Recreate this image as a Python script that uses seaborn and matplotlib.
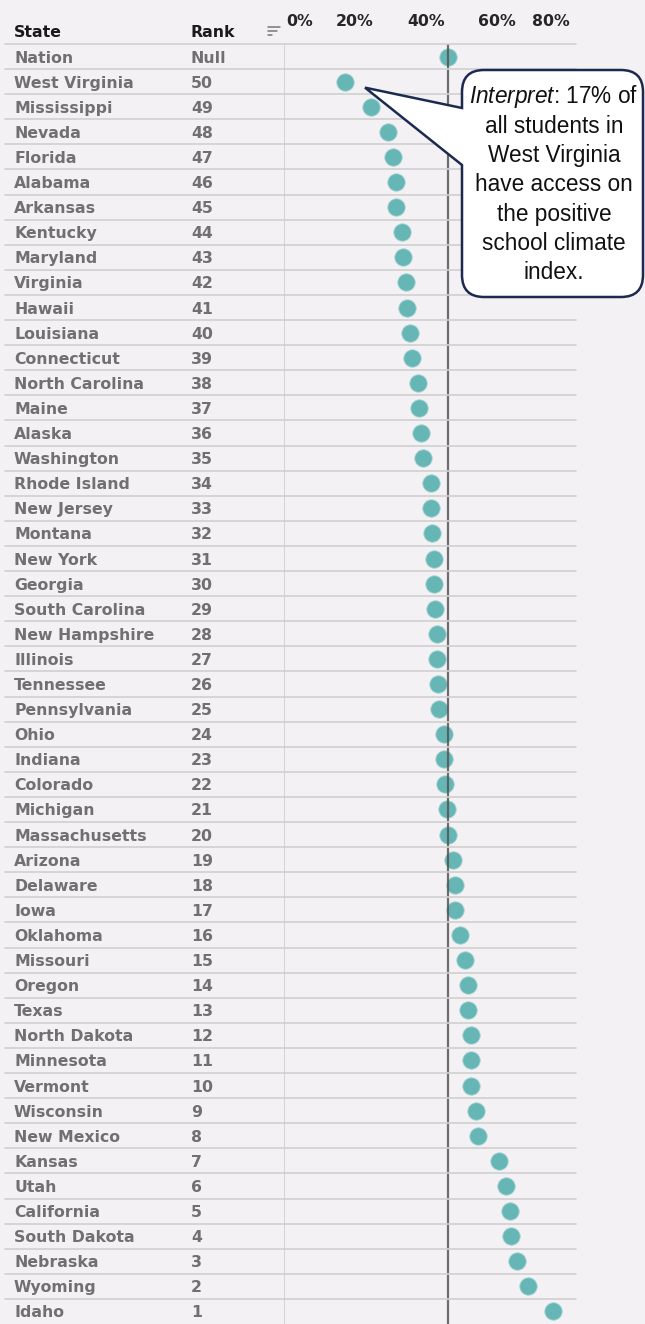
import matplotlib
matplotlib.use("Agg")
import matplotlib.pyplot as plt
import matplotlib.transforms as mtrans
from matplotlib.path import Path
from matplotlib.patches import PathPatch
from matplotlib.lines import Line2D
import seaborn as sns
import pandas as pd

states = ["Nation", "West Virginia", "Mississippi", "Nevada", "Florida", "Alabama",
          "Arkansas", "Kentucky", "Maryland", "Virginia", "Hawaii", "Louisiana",
          "Connecticut", "North Carolina", "Maine", "Alaska", "Washington",
          "Rhode Island", "New Jersey", "Montana", "New York", "Georgia",
          "South Carolina", "New Hampshire", "Illinois", "Tennessee", "Pennsylvania",
          "Ohio", "Indiana", "Colorado", "Michigan", "Massachusetts", "Arizona",
          "Delaware", "Iowa", "Oklahoma", "Missouri", "Oregon", "Texas",
          "North Dakota", "Minnesota", "Vermont", "Wisconsin", "New Mexico",
          "Kansas", "Utah", "California", "South Dakota", "Nebraska", "Wyoming", "Idaho"]
ranks = ["Null"] + [str(r) for r in range(50, 0, -1)]
values = [46.3, 17.2, 24.5, 29.2, 30.6, 31.7,
          31.7, 33.2, 33.6, 34.3, 34.8, 35.6,
          36.0, 37.7, 38.1, 38.5, 39.2,
          41.3, 41.3, 41.7, 42.4, 42.4,
          42.7, 43.1, 43.1, 43.5, 43.7,
          45.2, 45.2, 45.5, 45.9, 46.3, 47.7,
          48.1, 48.1, 49.5, 51.0, 52.0, 51.9,
          52.7, 52.7, 52.7, 54.1, 54.8,
          60.6, 62.6, 63.7, 64.1, 65.8, 68.7, 75.7]
nation_value = 46.3
ticks = [0, 20, 40, 60, 80]
tick_labels = ["0%", "20%", "40%", "60%", "80%"]
callout_lines = ["$\\mathit{Interpret}$: 17% of", "all students in", "West Virginia",
                 "have access on", "the positive", "school climate", "index."]

W, H = 645, 1324
BG = "#f3f1f4"
sns.set_style("white")
plt.rcParams["font.family"] = ["DejaVu Sans"]
plt.rcParams["mathtext.fontset"] = "custom"
plt.rcParams["mathtext.rm"] = "Liberation Sans"
plt.rcParams["mathtext.it"] = "Liberation Sans:italic"
FS = 11.3

fig = plt.figure(figsize=(W / 100, H / 100), dpi=100)
fig.patch.set_facecolor(BG)
ax = fig.add_axes([284 / W, 0, (576 - 284) / W, (H - 44) / H])
ax.set_facecolor(BG)

df = pd.DataFrame({"State": states, "Value": values})
sns.stripplot(data=df, x="Value", y="State", order=states, jitter=False, size=12.5,
              color="#67b6b6", linewidth=0.6, edgecolor="#a3d2d2", ax=ax, zorder=3)
ax.set_xlim(0, 82.3)
ax.set_ylim(len(states) - 0.5, -0.5)
for s in ax.spines.values():
    s.set_visible(False)
ax.set_xlabel("")
ax.set_ylabel("")
ax.set_yticks([])
ax.xaxis.tick_top()
ax.set_xticks(ticks)
ax.set_xticklabels(tick_labels)
ax.tick_params(axis="x", length=0, pad=11, labelsize=FS, labelcolor="#262626")
for lab in ax.get_xticklabels():
    lab.set_fontweight("bold")
labs = ax.get_xticklabels()
labs[0].set_transform(labs[0].get_transform() + mtrans.ScaledTranslation(15.5 / 100, 0, fig.dpi_scale_trans))
labs[-1].set_transform(labs[-1].get_transform() + mtrans.ScaledTranslation(-16.5 / 100, 0, fig.dpi_scale_trans))

ax.axvline(0, color="#cfcfcf", lw=1.2, zorder=1)
ax.axvline(nation_value, color="#555555", lw=1.6, alpha=0.85, zorder=4)

blend = mtrans.blended_transform_factory(fig.transFigure, ax.transData)
for i, (st, rk) in enumerate(zip(states, ranks)):
    fig.add_artist(Line2D([5 / W, 576 / W], [i - 0.5, i - 0.5], transform=blend,
                          color="#d0d0d0", lw=1.2, zorder=1))
    fig.text(14 / W, i, st, transform=blend, va="center_baseline", ha="left", fontsize=FS,
             color="#707070", fontweight="bold")
    fig.text(191 / W, i, rk, transform=blend, va="center_baseline", ha="left", fontsize=FS,
             color="#707070", fontweight="bold")

fig.text(14 / W, 1 - 31 / H, "State", va="center_baseline", ha="left", fontsize=FS,
         color="#1a1a1a", fontweight="bold")
fig.text(191 / W, 1 - 31 / H, "Rank", va="center_baseline", ha="left", fontsize=FS,
         color="#1a1a1a", fontweight="bold")
for yy, x1 in [(27, 280), (31, 277), (35, 272)]:
    fig.add_artist(Line2D([268 / W, x1 / W], [1 - yy / H, 1 - yy / H],
                          transform=fig.transFigure, color="#777777", lw=1.1))

# callout
fig.canvas.draw()
tx, ty = ax.transData.transform((values[1], 1))
tx, ty = tx + 20, ty - 6
x0, x1, yt, yb, r = 462, 643, H - 70, H - 297, 22
p1, p2 = H - 108, H - 165
verts = [(x0, yt - r), (x0, yt), (x0 + r, yt), (x1 - r, yt), (x1, yt), (x1, yt - r),
         (x1, yb + r), (x1, yb), (x1 - r, yb), (x0 + r, yb), (x0, yb), (x0, yb + r),
         (x0, p2), (tx, ty), (x0, p1), (x0, yt - r)]
codes = [Path.MOVETO, Path.CURVE3, Path.CURVE3, Path.LINETO, Path.CURVE3, Path.CURVE3,
         Path.LINETO, Path.CURVE3, Path.CURVE3, Path.LINETO, Path.CURVE3, Path.CURVE3,
         Path.LINETO, Path.LINETO, Path.LINETO, Path.CLOSEPOLY]
fig.add_artist(PathPatch(Path(verts, codes), facecolor="white", edgecolor="#1b2a4e",
                         lw=1.8, transform=mtrans.IdentityTransform(), zorder=10))
for k, line in enumerate(callout_lines):
    fig.text(554 / W, 1 - (97 + 29.3 * k) / H, line, ha="center", va="center",
             fontsize=16.3, color="#111111", family="Liberation Sans", zorder=11)

fig.savefig("out.png", dpi=100, facecolor=BG)
